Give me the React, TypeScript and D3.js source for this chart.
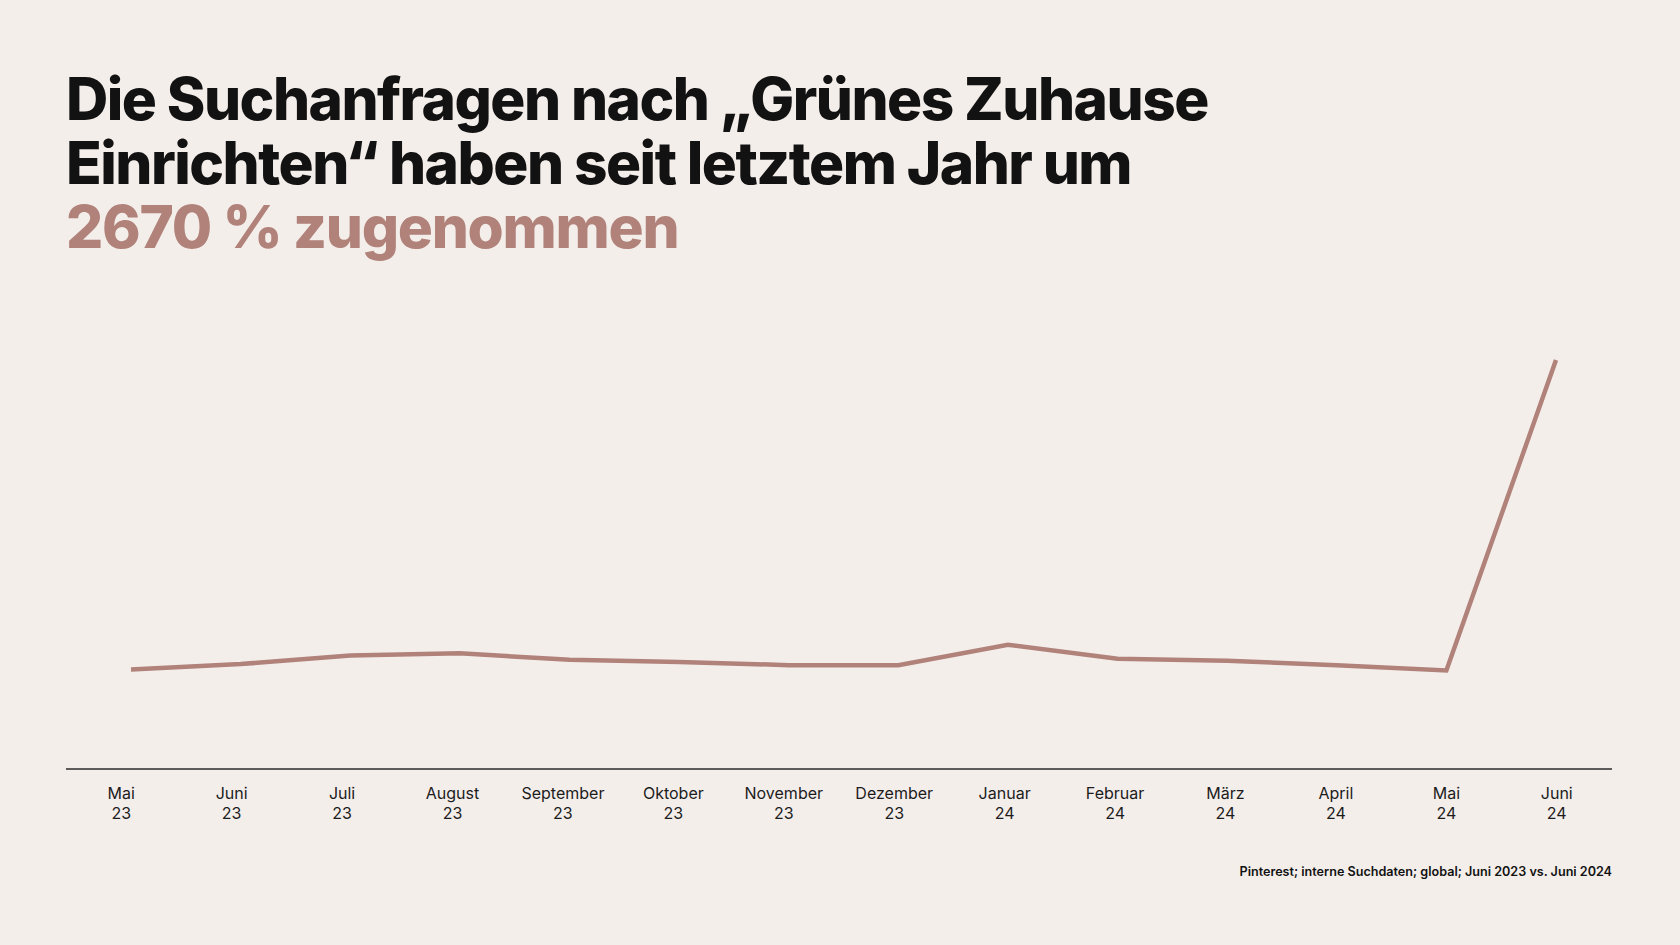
import React from "react";
import * as d3 from "d3";

const W = 1680;
const H = 945;

// monthly search interest (index), May 2023 – June 2024
const months = ["Mai", "Juni", "Juli", "August", "September", "Oktober", "November", "Dezember", "Januar", "Februar", "März", "April", "Mai", "Juni"];
const years = ["23", "23", "23", "23", "23", "23", "23", "23", "24", "24", "24", "24", "24", "24"];
const searches = [93, 98, 106, 108, 102, 100, 97, 97, 116, 103, 101, 97, 92, 382];

const titleLines = ["Die Suchanfragen nach „Grünes Zuhause", "Einrichten“ haben seit letztem Jahr um"];
const highlight = "2670 % zugenommen";
const source = "Pinterest; interne Suchdaten; global; Juni 2023 vs. Juni 2024";

const BG = "#f4eeeb";
const ROSE = "#b0827a";
const INK = "#121212";

const margin = { left: 66, right: 68, axisY: 769 };

export default function App() {
  const keys = months.map((_, i) => i);

  // tick positions: one band per month across the axis
  const xBand = d3
    .scaleBand<number>()
    .domain(keys)
    .range([margin.left, W - margin.right]);

  // the line itself sits slightly inset from the band centres
  const xLine = d3
    .scalePoint<number>()
    .domain(keys)
    .range([131, 1556]);

  const y = d3
    .scaleLinear()
    .domain([0, 382])
    .range([margin.axisY, 360]);

  const line = d3
    .line<number>()
    .x((_, i) => xLine(i) as number)
    .y((d) => y(d));

  return (
    <div style={{ position: "fixed", inset: 0, background: BG }}>
      <svg width={W} height={H} style={{ display: "block" }}>
        <rect width={W} height={H} fill={BG} />
        <g fontFamily="Inter, 'Noto Sans', sans-serif" fontWeight={800} fontSize={58.5}>
          {titleLines.map((t, i) => (
            <text key={i} x={66} y={120 + i * 64} fill={INK} letterSpacing="-1.5">
              {t}
            </text>
          ))}
          <text x={66} y={248} fill={ROSE} letterSpacing="-1.25">
            {highlight}
          </text>
        </g>

        <path d={line(searches) || ""} fill="none" stroke={ROSE} strokeWidth={4.5} strokeLinejoin="miter" />

        <line x1={margin.left} x2={W - margin.right} y1={margin.axisY} y2={margin.axisY} stroke="#2b2b2b" strokeWidth={1.4} />

        <g fontFamily="Inter, 'Noto Sans', sans-serif" fontSize={16} fill="#1c1c1c" textAnchor="middle">
          {keys.map((i) => {
            const cx = (xBand(i) as number) + xBand.bandwidth() / 2;
            return (
              <text key={i} x={cx} y={799}>
                <tspan x={cx}>{months[i]}</tspan>
                <tspan x={cx} dy={20}>{years[i]}</tspan>
              </text>
            );
          })}
        </g>

        <text
          x={W - margin.right}
          y={876}
          textAnchor="end"
          fontFamily="Inter, 'Noto Sans', sans-serif"
          fontWeight={600}
          fontSize={12.6}
          fill={INK}
        >
          {source}
        </text>
      </svg>
    </div>
  );
}
